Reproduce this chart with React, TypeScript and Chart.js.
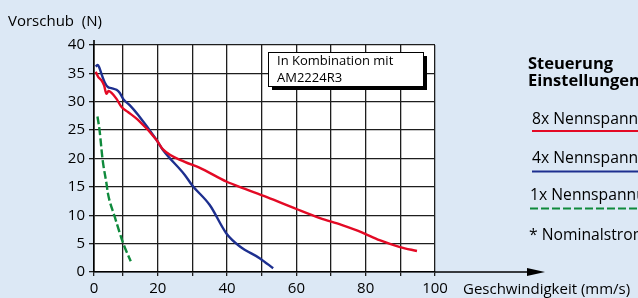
import React, { useEffect, useRef } from "react";
import { Chart, registerables } from "chart.js";

Chart.register(...registerables);

// ---- data ----
const X_AXIS_START = 1.6; // where the drawn y-axis sits (labelled "0")
const xTickValues = [0, 10, 20, 30, 40, 50, 60, 70, 80, 90, 100];
const xTickLabels = ["0", "", "20", "", "40", "", "60", "", "80", "", "100"];
const yTickValues = [0, 5, 10, 15, 20, 25, 30, 35, 40];

const red8xX = [2.1, 2.8, 3.7, 4.5, 5.2, 5.8, 6.6, 8.1, 9.5, 11.4, 14.3, 19.6, 21.5, 27.8, 32, 39.9, 45, 51.5, 60, 66.8, 73, 79.2, 84, 89.9, 94.8];
const red8xY = [35.3, 34.4, 33.8, 32.9, 31.4, 31.9, 31.6, 30.5, 29.1, 28.2, 26.8, 23.3, 21.6, 19.4, 18.4, 15.9, 14.7, 13.2, 11.1, 9.5, 8.3, 6.9, 5.6, 4.4, 3.7];

const blue4xX = [2.1, 2.7, 3.2, 3.7, 4.7, 5.6, 6.6, 8.1, 9.0, 10.0, 11.9, 14.3, 19.6, 21.5, 27.8, 29.9, 35, 39.8, 43.7, 49.5, 53.3];
const blue4xY = [36.2, 36.5, 35.9, 35.0, 33.4, 32.6, 32.4, 32.1, 31.6, 30.5, 29.4, 27.7, 23.3, 21.5, 17.1, 15.3, 11.8, 6.8, 4.5, 2.4, 0.65];

const green1xX = [2.6, 3.2, 4.1, 5.2, 5.6, 7.6, 10, 12.2];
const green1xY = [27.4, 25.0, 19.7, 15.6, 13.9, 9.7, 5.1, 1.9];

const seriesLabels = ["8x Nennspannung", "4x Nennspannung", "1x Nennspannung"];
const seriesColors = ["#e30a25", "#1d2f8f", "#0f8a3c"];

const FONT = "'Open Sans', 'Noto Sans', sans-serif";
const BG = "#dce8f5";

function toPoints(xs: number[], ys: number[]) {
  return xs.map((x, i) => ({ x, y: ys[i] }));
}

const decorPlugin = {
  id: "decor",
  beforeDraw(chart: any) {
    const { ctx, chartArea } = chart;
    ctx.save();
    ctx.fillStyle = BG;
    ctx.fillRect(0, 0, chart.width, chart.height);
    ctx.fillStyle = "#ffffff";
    ctx.fillRect(chartArea.left, chartArea.top, chartArea.right - chartArea.left, chartArea.bottom - chartArea.top);
    ctx.restore();
  },
  afterDraw(chart: any) {
    const { ctx, chartArea } = chart;
    const { left, right, top, bottom } = chartArea;
    ctx.save();
    ctx.strokeStyle = "#000";
    ctx.fillStyle = "#000";
    ctx.lineWidth = 1.6;
    // y-axis extension
    ctx.beginPath();
    ctx.moveTo(left, top);
    ctx.lineTo(left, top - 5);
    ctx.stroke();
    // x-axis extension with arrow
    ctx.beginPath();
    ctx.moveTo(right, bottom);
    ctx.lineTo(530, bottom);
    ctx.stroke();
    ctx.beginPath();
    ctx.moveTo(527, bottom - 4);
    ctx.lineTo(545, bottom);
    ctx.lineTo(527, bottom + 4);
    ctx.closePath();
    ctx.fill();

    // axis titles
    ctx.font = `15px ${FONT}`;
    ctx.textBaseline = "alphabetic";
    ctx.textAlign = "left";
    ctx.fillText("Vorschub  (N)", 8, 26);
    ctx.fillText("Geschwindigkeit (mm/s)", 463, 294);

    // text box
    ctx.fillStyle = "#000";
    ctx.fillRect(272, 56, 155, 34);
    ctx.fillStyle = "#fff";
    ctx.fillRect(268, 52, 155, 34);
    ctx.lineWidth = 1;
    ctx.strokeStyle = "#000";
    ctx.strokeRect(268.5, 52.5, 155, 34);
    ctx.fillStyle = "#000";
    ctx.font = `13px ${FONT}`;
    ctx.fillText("In Kombination mit", 277, 65);
    ctx.fillText("AM2224R3", 277, 82);

    // legend
    ctx.font = `bold 16.5px ${FONT}`;
    ctx.fillText("Steuerung", 528, 69);
    ctx.fillText("Einstellungen", 528, 86);
    const ds = chart.data.datasets;
    const textY = [124, 163, 200];
    const lineY = [131, 171.5, 208.5];
    const textX = [532, 532, 530];
    ctx.font = `15.7px ${FONT}`;
    for (let i = 0; i < ds.length; i++) {
      ctx.fillStyle = "#000";
      ctx.fillText(ds[i].label, textX[i], textY[i]);
      ctx.strokeStyle = ds[i].borderColor;
      ctx.lineWidth = 2.2;
      ctx.setLineDash(ds[i].borderDash || []);
      ctx.beginPath();
      ctx.moveTo(textX[i], lineY[i]);
      ctx.lineTo(640, lineY[i]);
      ctx.stroke();
    }
    ctx.setLineDash([]);
    ctx.fillStyle = "#000";
    ctx.fillText("* Nominalstrom", 529, 240);
    ctx.restore();
  },
};

export default function App() {
  const canvasRef = useRef<HTMLCanvasElement | null>(null);

  useEffect(() => {
    const prevMargin = document.body.style.margin;
    document.body.style.margin = "0";
    const canvas = canvasRef.current!;
    const common = {
      borderWidth: 2.4,
      pointRadius: 0,
      cubicInterpolationMode: "monotone" as const,
      fill: false,
    };
    const chart = new Chart(canvas, {
      type: "line",
      data: {
        datasets: [
          { ...common, label: seriesLabels[0], data: toPoints(red8xX, red8xY), borderColor: seriesColors[0] },
          { ...common, label: seriesLabels[1], data: toPoints(blue4xX, blue4xY), borderColor: seriesColors[1] },
          { ...common, label: seriesLabels[2], data: toPoints(green1xX, green1xY), borderColor: seriesColors[2], borderDash: [8, 3] },
        ],
      },
      options: {
        animation: false,
        responsive: false,
        maintainAspectRatio: false,
        devicePixelRatio: 1,
        layout: { padding: { left: 0, top: 45, right: 203, bottom: 0 } },
        plugins: {
          legend: { display: false },
          tooltip: { enabled: false },
          title: { display: false },
        },
        scales: {
          x: {
            type: "linear",
            min: X_AXIS_START,
            max: 100,
            afterBuildTicks: (scale: any) => {
              scale.ticks = xTickValues.map((v) => ({ value: v === 0 ? X_AXIS_START : v }));
            },
            afterFit: (scale: any) => {
              scale.height = 26;
            },
            ticks: {
              autoSkip: false,
              maxRotation: 0,
              padding: 4,
              color: "#000",
              font: { family: FONT, size: 15 },
              callback: (_v: any, i: number) => xTickLabels[i],
            },
            grid: { color: "#1e1e1e", lineWidth: 1.3, tickLength: 4, drawTicks: true },
            border: { display: true, color: "#000", width: 1.6 },
          },
          y: {
            type: "linear",
            min: 0,
            max: 40,
            afterBuildTicks: (scale: any) => {
              scale.ticks = yTickValues.map((v) => ({ value: v }));
            },
            afterFit: (scale: any) => {
              scale.width = 94;
            },
            ticks: {
              padding: 4,
              color: "#000",
              font: { family: FONT, size: 15 },
            },
            grid: { color: "#1e1e1e", lineWidth: 1.3, tickLength: 5, drawTicks: true },
            border: { display: true, color: "#000", width: 1.6 },
          },
        },
      },
      plugins: [decorPlugin],
    });
    return () => {
      chart.destroy();
      document.body.style.margin = prevMargin;
    };
  }, []);

  return (
    <div style={{ width: 638, height: 298, background: BG, overflow: "hidden" }}>
      <canvas ref={canvasRef} width={638} height={298} style={{ display: "block" }} />
    </div>
  );
}
